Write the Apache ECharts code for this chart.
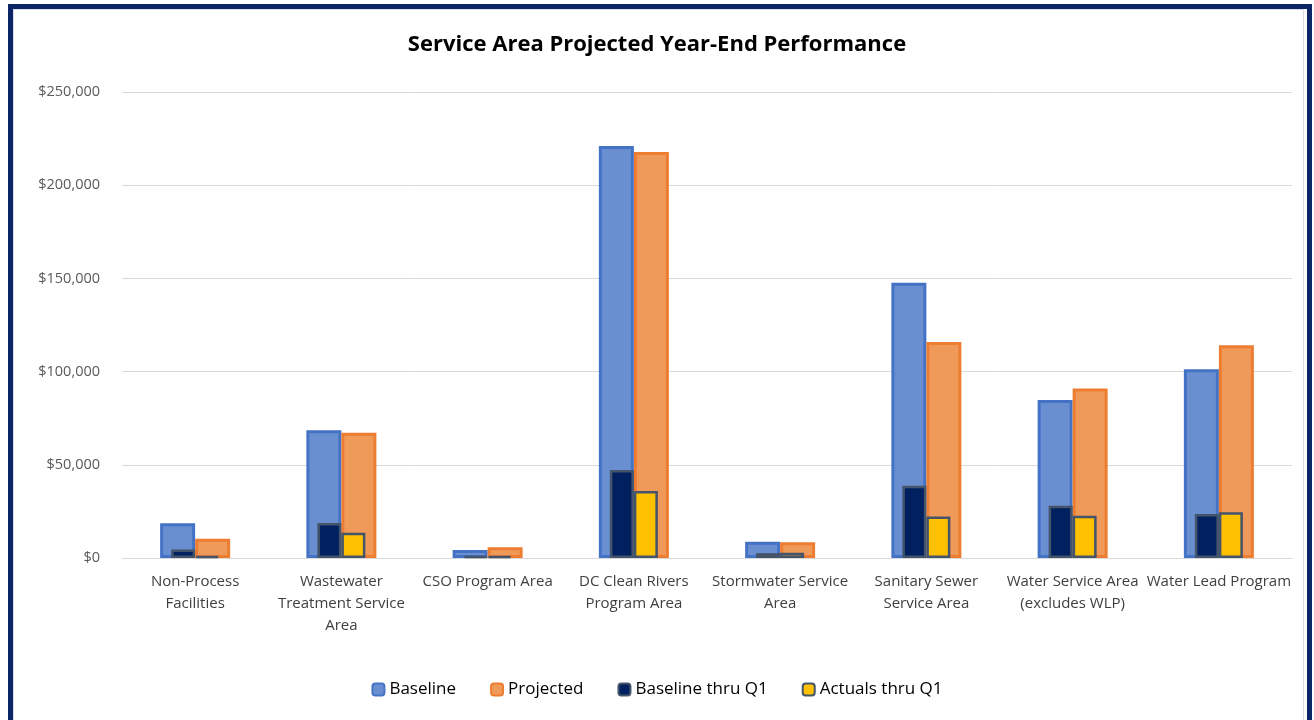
<!DOCTYPE html>
<html>
<head>
<meta charset="utf-8">
<script src="https://cdn.jsdelivr.net/npm/echarts@6/dist/echarts.min.js"></script>
<style>
html,body{margin:0;padding:0;background:#fff;}
#chart{width:1314px;height:720px;}
</style>
</head>
<body>
<div id="chart"></div>
<script>
const categories = [
  "Non-Process\nFacilities",
  "Wastewater\nTreatment Service\nArea",
  "CSO Program Area",
  "DC Clean Rivers\nProgram Area",
  "Stormwater Service\nArea",
  "Sanitary Sewer\nService Area",
  "Water Service Area\n(excludes WLP)",
  "Water Lead Program"
];
const baseline      = [18600, 68600, 4300, 221000, 8700, 147700, 84800, 101200];
const projected     = [10300, 67200, 5800, 217800, 8400, 115900, 91000, 114100];
const baselineThruQ1 = [4600, 18800, 1000, 47200, 2600, 38800, 28000, 23600];
const actualsThruQ1  = [1000, 13600, 1000, 36000, 2800, 22200, 22700, 24500];
const yTicks = { min: 0, max: 250000, interval: 50000 };

const chart = echarts.init(document.getElementById('chart'), null, {renderer: 'canvas'});
const fmt = v => '$' + (v === 0 ? '0' : v.toLocaleString('en-US'));
chart.setOption({
  animation: false,
  backgroundColor: '#ffffff',
  title: {
    text: 'Service Area Projected Year-End Performance',
    left: 'center', top: 29,
    textStyle: { fontFamily: 'Open Sans', fontWeight: 'bold', fontSize: 22, color: '#000' }
  },
  graphic: [
    { type: 'rect', shape: { x: 10.5, y: 6.5, width: 1299, height: 730 },
      style: { fill: 'none', stroke: '#0b2566', lineWidth: 5 }, z: 100 },
    { type: 'rect', shape: { x: 13.5, y: 9.5, width: 1290, height: 720 },
      style: { fill: 'none', stroke: '#d9dce3', lineWidth: 1 }, z: 99 }
  ],
  legend: {
    bottom: 17, left: 'center',
    itemWidth: 12, itemHeight: 12, itemGap: 34,
    textStyle: { fontFamily: 'Open Sans', fontSize: 17, color: '#000' },
    data: ['Baseline', 'Projected', 'Baseline thru Q1', 'Actuals thru Q1']
  },
  grid: { left: 122, right: 22, top: 92, bottom: 162 },
  xAxis: [
    { type: 'category', data: categories,
      axisLine: { lineStyle: { color: '#d9d9d9', width: 1 } },
      axisTick: { show: false },
      axisLabel: { interval: 0, margin: 13, lineHeight: 22, fontFamily: 'Open Sans', fontSize: 15, color: '#404040' } },
    { type: 'category', data: categories, show: false, position: 'bottom' }
  ],
  yAxis: {
    type: 'value', min: yTicks.min, max: yTicks.max, interval: yTicks.interval,
    axisLine: { show: false }, axisTick: { show: false },
    splitLine: { lineStyle: { color: '#d9d9d9', width: 1 } },
    axisLabel: { formatter: fmt, margin: 22, fontFamily: 'Open Sans', fontSize: 14.5, color: '#595959' }
  },
  series: [
    { name: 'Baseline', type: 'bar', xAxisIndex: 0, data: baseline, barWidth: 35, barGap: '0%',
      itemStyle: { color: '#6a8fd0', borderColor: '#4472c4', borderWidth: 3 } },
    { name: 'Projected', type: 'bar', xAxisIndex: 0, data: projected, barWidth: 35, barGap: '0%',
      itemStyle: { color: '#f09a5a', borderColor: '#ed7d31', borderWidth: 3 } },
    { name: 'Baseline thru Q1', type: 'bar', xAxisIndex: 1, data: baselineThruQ1, barWidth: 24, barGap: '0%', z: 3,
      itemStyle: { color: '#002060', borderColor: '#44546a', borderWidth: 2.5 } },
    { name: 'Actuals thru Q1', type: 'bar', xAxisIndex: 1, data: actualsThruQ1, barWidth: 24, barGap: '0%', z: 3,
      itemStyle: { color: '#ffc000', borderColor: '#44546a', borderWidth: 2.5 } }
  ]
});
</script>
</body>
</html>
